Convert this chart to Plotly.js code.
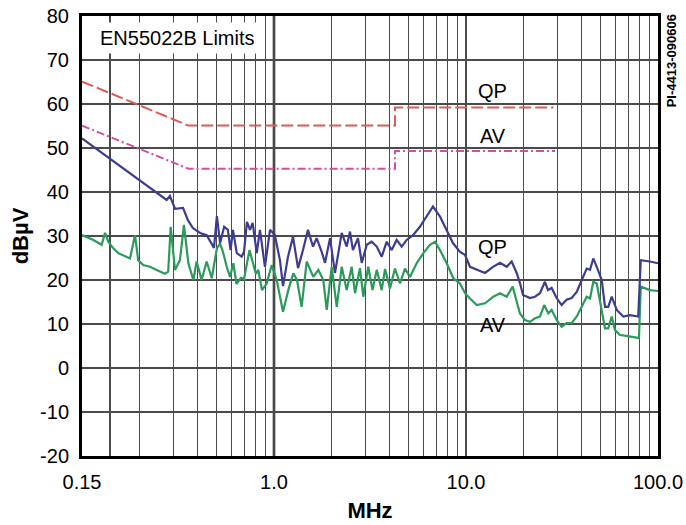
<!DOCTYPE html>
<html>
<head>
<meta charset="utf-8">
<script src="https://cdn.plot.ly/plotly-3.0.1.min.js"></script>
<style>html,body{margin:0;padding:0;background:#fff;}#chart{width:686px;height:525px;}</style>
</head>
<body>
<div id="chart"></div>
<script>
// ---- Data (MHz, dBµV) ----
const qpFreq = [0.1, 0.276, 0.287, 0.305, 0.336, 0.356, 0.378, 0.412, 0.446, 0.474, 0.487, 0.504, 0.524, 0.550, 0.575, 0.594, 0.611, 0.640, 0.679, 0.698, 0.723, 0.750, 0.774, 0.813, 0.845, 0.897, 0.953, 1.01, 1.074, 1.114, 1.183, 1.256, 1.334, 1.416, 1.503, 1.596, 1.668, 1.771, 1.844, 1.958, 2.078, 2.253, 2.392, 2.488, 2.577, 2.738, 2.864, 3.041, 3.228, 3.428, 3.639, 3.864, 4.102, 4.355, 4.624, 4.909, 5.297, 5.754, 6.233, 6.730, 7.321, 7.932, 8.551, 9.305, 9.88, 10.49, 11.37, 12.56, 13.83, 15.03, 16.29, 17.29, 18.36, 19.1, 19.82, 21.55, 22.87, 24.27, 25.77, 26.73, 27.93, 29.65, 31.48, 33.42, 35.48, 37.73, 40.06, 42.53, 44.26, 46.03, 47.97, 50.93, 52.97, 55.08, 57.41, 60.95, 65.96, 71.45, 78.9, 81.3, 90.8, 100];
const qpLevel = [52.2, 38.2, 39.1, 36.2, 36.4, 33.6, 31.8, 30.7, 30.2, 28.0, 27.3, 34.5, 28.4, 32.1, 31.4, 26.8, 31.4, 26.1, 25.3, 26.4, 33.2, 31.4, 33.0, 26.1, 31.4, 23.0, 31.4, 30.2, 24.5, 18.6, 25.3, 29.8, 22.7, 26.8, 31.4, 27.6, 29.5, 26.4, 23.9, 29.5, 21.6, 30.7, 27.6, 31.0, 26.8, 29.5, 23.9, 28.0, 28.7, 27.6, 25.3, 28.7, 26.8, 29.1, 27.6, 29.1, 30.2, 32.1, 34.4, 36.7, 34.4, 31.4, 28.4, 26.4, 25.7, 23.0, 22.3, 21.6, 23.0, 23.9, 23.0, 24.2, 21.6, 19.3, 16.6, 15.9, 16.2, 17.0, 19.6, 17.7, 18.2, 15.9, 14.3, 15.5, 15.9, 17.3, 20.0, 22.6, 22.3, 24.9, 23.0, 20.0, 13.9, 13.9, 16.2, 13.2, 11.7, 12.0, 11.7, 24.5, 24.2, 23.8];

const avFreq = [0.1, 0.1146, 0.1266, 0.1318, 0.1371, 0.1456, 0.1545, 0.1675, 0.1778, 0.1888, 0.1963, 0.2084, 0.2259, 0.2449, 0.2703, 0.2812, 0.2897, 0.305, 0.3236, 0.3396, 0.3581, 0.3802, 0.3954, 0.4198, 0.446, 0.474, 0.504, 0.524, 0.5445, 0.5675, 0.590, 0.614, 0.638, 0.673, 0.698, 0.745, 0.777, 0.805, 0.828, 0.866, 0.916, 0.973, 1.033, 1.114, 1.187, 1.26, 1.318, 1.393, 1.480, 1.602, 1.702, 1.806, 1.882, 1.998, 2.122, 2.253, 2.392, 2.539, 2.642, 2.805, 2.918, 3.097, 3.258, 3.428, 3.639, 3.786, 4.019, 4.267, 4.53, 4.81, 5.106, 5.534, 5.994, 6.494, 6.895, 7.321, 7.932, 8.59, 9.305, 9.88, 10.49, 11.37, 12.56, 13.87, 15.03, 16.29, 17.5, 18.21, 19.1, 20.28, 21.55, 22.87, 24.27, 25.56, 26.83, 27.93, 29.65, 31.48, 33.42, 35.48, 37.73, 40.06, 42.53, 44.26, 46.03, 47.97, 50.3, 52.97, 55.08, 57.41, 59.7, 63.4, 68.7, 74.3, 79.6, 81.3, 90.8, 100];
const avLevel = [30.2, 29.1, 28.0, 30.7, 28.7, 27.2, 26.1, 25.3, 24.9, 30.2, 24.5, 23.4, 23.0, 22.3, 21.4, 21.9, 32.1, 22.3, 24.5, 32.5, 23.8, 20.0, 24.2, 20.0, 24.2, 20.4, 27.2, 28.3, 26.1, 23.0, 20.7, 23.8, 19.1, 20.5, 20.2, 26.8, 24.1, 21.4, 22.3, 17.7, 19.2, 23.4, 20.0, 12.8, 17.7, 21.5, 20.0, 13.9, 24.2, 20.7, 22.3, 20.0, 13.2, 23.0, 13.9, 23.0, 17.7, 23.0, 17.0, 22.7, 16.2, 23.0, 17.7, 22.3, 17.7, 22.5, 18.1, 22.6, 19.2, 22.6, 20.7, 23.8, 26.1, 28.0, 28.7, 26.8, 23.8, 20.4, 19.2, 17.0, 15.8, 14.3, 14.7, 16.2, 17.0, 16.2, 18.5, 15.8, 12.4, 10.9, 10.5, 11.3, 11.7, 14.3, 12.4, 13.2, 10.9, 9.4, 10.2, 10.2, 11.7, 13.9, 16.2, 15.8, 19.6, 19.2, 14.7, 9.0, 9.0, 11.7, 8.6, 7.5, 7.3, 7.1, 6.8, 18.5, 17.7, 17.5];

const qpLimFreq = [0.1, 0.358, 4.27, 4.27, 28.5];
const qpLimLevel = [65.1, 55.1, 55.1, 59.2, 59.2];
const avLimFreq = [0.1, 0.358, 4.27, 4.27, 29.1];
const avLimLevel = [55.1, 45.3, 45.3, 49.3, 49.3];

const xLabelVals = [0.1, 1, 10, 100];
const xLabelText = ['0.15', '1.0', '10.0', '100.0'];
const xMinorGrid = [0.14, 0.2, 0.3, 0.4, 0.5, 0.6, 0.7, 0.8, 0.9, 2, 3, 4, 5, 6, 7, 8, 9, 20, 30, 40, 50, 60, 70, 80, 90];
const xHeavyGrid = [1, 10];
const yTickVals = [-20, -10, 0, 10, 20, 30, 40, 50, 60, 70, 80];
const yTickText = ['-20', '-10', '0', '10', '20', '30', '40', '50', '60', '70', '80'];

const FONT = 'Liberation Sans, Arial, Helvetica, sans-serif';

// Build x tick arrays: labelled major positions plus unlabelled grid positions
const xTickVals = xLabelVals.concat(xMinorGrid);
const xTickText = xLabelText.concat(xMinorGrid.map(() => ''));

const traces = [
  {x: qpLimFreq, y: qpLimLevel, type: 'scatter', mode: 'lines', name: 'QP limit',
   line: {color: '#de5a52', width: 2, dash: '12px,4px'}},
  {x: avLimFreq, y: avLimLevel, type: 'scatter', mode: 'lines', name: 'AV limit',
   line: {color: '#d84aa6', width: 2, dash: '8px,3px,2px,3px'}},
  {x: avFreq, y: avLevel, type: 'scatter', mode: 'lines', name: 'AV',
   line: {color: '#2b9a5b', width: 2.2}},
  {x: qpFreq, y: qpLevel, type: 'scatter', mode: 'lines', name: 'QP',
   line: {color: '#3d3d8f', width: 2.2}}
];

const annFont = {family: FONT, size: 20, color: '#000'};
const layout = {
  width: 686, height: 525,
  margin: {l: 82, r: 28, t: 16, b: 69},
  paper_bgcolor: '#fff', plot_bgcolor: '#fff',
  showlegend: false,
  font: {family: FONT, color: '#000', size: 20},
  xaxis: {
    type: 'log', range: [-1, 2],
    tickmode: 'array', tickvals: xTickVals, ticktext: xTickText,
    showgrid: true, gridcolor: '#4a4a4a', gridwidth: 1.2,
    showline: true, linecolor: '#000', linewidth: 3, mirror: true,
    ticks: '', ticklabelstandoff: 6,
    tickfont: {family: FONT, size: 20, color: '#000'},
    zeroline: false, fixedrange: true,
    title: {text: 'MHz', font: {family: FONT, size: 22, color: '#000', weight: 'bold'}, standoff: 11}
  },
  yaxis: {
    range: [-20, 80],
    tickmode: 'array', tickvals: yTickVals, ticktext: yTickText,
    showgrid: true, gridcolor: '#4a4a4a', gridwidth: 1.2,
    showline: true, linecolor: '#000', linewidth: 3, mirror: true,
    ticks: '', ticklabelstandoff: 6,
    tickfont: {family: FONT, size: 20, color: '#000'},
    zeroline: false, fixedrange: true,
    title: {text: 'dBµV', font: {family: FONT, size: 22, color: '#000', weight: 'bold'}, standoff: 6}
  },
  shapes: xHeavyGrid.map(v => ({
    type: 'line', xref: 'x', yref: 'paper', x0: Math.log10(v), x1: Math.log10(v), y0: 0, y1: 1,
    layer: 'below', line: {color: '#000', width: 2.5}
  })),
  annotations: [
    {text: 'EN55022B Limits', xref: 'paper', yref: 'paper', x: 0.1658, y: 0.95,
     xanchor: 'center', yanchor: 'middle',
     showarrow: false, bgcolor: '#fff', borderpad: 4, font: annFont},
    {text: 'QP', xref: 'paper', yref: 'paper', x: 0.7135, y: 0.8295, xanchor: 'center', yanchor: 'middle', showarrow: false, font: annFont},
    {text: 'AV', xref: 'paper', yref: 'paper', x: 0.7135, y: 0.727, xanchor: 'center', yanchor: 'middle', showarrow: false, font: annFont},
    {text: 'QP', xref: 'paper', yref: 'paper', x: 0.7135, y: 0.475, xanchor: 'center', yanchor: 'middle', showarrow: false, font: annFont},
    {text: 'AV', xref: 'paper', yref: 'paper', x: 0.7135, y: 0.298, xanchor: 'center', yanchor: 'middle', showarrow: false, font: annFont},
    {text: '<b>PI-4413-090606</b>', xref: 'paper', yref: 'paper', x: 1.0234, y: 0.898,
     xanchor: 'center', yanchor: 'middle',
     showarrow: false, textangle: -90, font: {family: FONT, size: 13, color: '#000'}}
  ]
};

Plotly.newPlot('chart', traces, layout, {displayModeBar: false, staticPlot: true});
</script>
</body>
</html>
